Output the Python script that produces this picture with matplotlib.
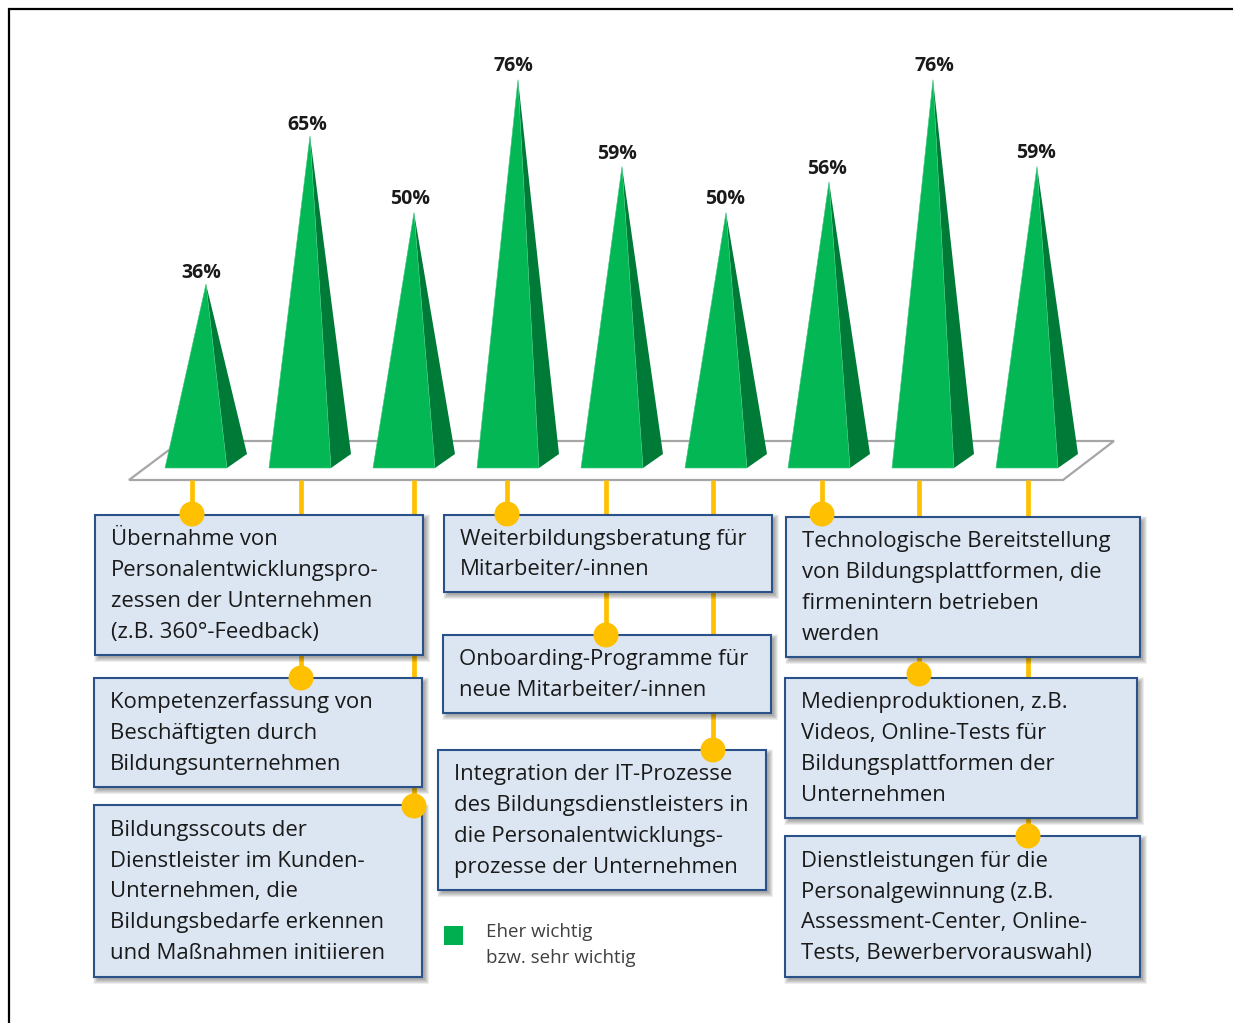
import matplotlib.pyplot as plt
from matplotlib.patches import Polygon, Rectangle, Circle

plt.rcParams['font.family'] = ['Open Sans', 'DejaVu Sans']

# share of answers per offer, left to right
values = [36, 65, 50, 76, 59, 50, 56, 76, 59]
value_labels = ["36%", "65%", "50%", "76%", "59%", "50%", "56%", "76%", "59%"]

box_texts = [
    ["Übernahme von", "Personalentwicklungspro-", "zessen der Unternehmen", "(z.B. 360°-Feedback)"],
    ["Kompetenzerfassung von", "Beschäftigten durch", "Bildungsunternehmen"],
    ["Bildungsscouts der", "Dienstleister im Kunden-", "Unternehmen, die", "Bildungsbedarfe erkennen", "und Maßnahmen initiieren"],
    ["Weiterbildungsberatung für", "Mitarbeiter/-innen"],
    ["Onboarding-Programme für", "neue Mitarbeiter/-innen"],
    ["Integration der IT-Prozesse", "des Bildungsdienstleisters in", "die Personalentwicklungs-", "prozesse der Unternehmen"],
    ["Technologische Bereitstellung", "von Bildungsplattformen, die", "firmenintern betrieben", "werden"],
    ["Medienproduktionen, z.B.", "Videos, Online-Tests für", "Bildungsplattformen der", "Unternehmen"],
    ["Dienstleistungen für die", "Personalgewinnung (z.B.", "Assessment-Center, Online-", "Tests, Bewerbervorauswahl)"],
]
legend_lines = ["Eher wichtig", "bzw. sehr wichtig"]

# layout, in pixels
W, H = 1233, 1023
BASE_Y = 468
PX_PER_PCT = 5.11
left_x = [165, 269, 373, 477, 581, 685, 788, 892, 996]
label_x = [201, 307, 410, 513, 617, 725, 827, 934, 1036]
label_y = [273, 125, 199, 66, 154, 199, 169, 66, 153]
box_rects = [
    (95, 515, 423, 655), (94, 678, 422, 787), (94, 805, 422, 977),
    (444, 515, 772, 592), (443, 635, 771, 713), (438, 750, 766, 890),
    (786, 517, 1140, 657), (785, 678, 1137, 818), (785, 836, 1140, 977),
]
dots = [(192, 514), (301, 678), (414, 806), (507, 514), (606, 635),
        (713, 750), (822, 514), (919, 674), (1028, 836)]

GREEN = '#03B755'
DARK_GREEN = '#007A37'
YELLOW = '#FFC000'
BOX_FILL = '#DCE6F2'
BOX_EDGE = '#2A5288'
TEXT = '#1A1A1A'
FS = 15.9
LINE_H = 30.8

fig = plt.figure(figsize=(W / 100, H / 100), dpi=100, facecolor='white')

# background axes works in pixel coordinates
ax = fig.add_axes([0, 0, 1, 1])
ax.set_xlim(0, W)
ax.set_ylim(H, 0)
ax.axis('off')

# frame, only top and left
ax.plot([9, 9, W], [H, 9, 9], color='black', lw=1.6, solid_joinstyle='miter')

# floor plate
ax.add_patch(Polygon([(129, 480), (1063, 480), (1114, 441), (181, 441)], closed=True,
                     facecolor='white', edgecolor='#A6A6A6', lw=1.6, zorder=1))

# connectors run behind the boxes
for x, y in dots:
    ax.plot([x, x], [480, y], color=YELLOW, lw=3.4, solid_capstyle='butt', zorder=2)

# boxes with a soft shadow
for (x0, y0, x1, y1), lines in zip(box_rects, box_texts):
    for grow in range(8, -3, -1):
        ax.add_patch(Rectangle((x0 + 3 - grow / 2, y0 + 3 - grow / 2), x1 - x0 + grow, y1 - y0 + grow,
                               facecolor='black', edgecolor='none', alpha=0.035, zorder=3))
    ax.add_patch(Rectangle((x0, y0), x1 - x0, y1 - y0, facecolor=BOX_FILL,
                           edgecolor=BOX_EDGE, lw=1.5, zorder=4))
    n = len(lines)
    mid = (y0 + y1) / 2 + 1
    for i, line in enumerate(lines):
        ax.text(x0 + 16, mid + (i - (n - 1) / 2) * LINE_H, line, fontsize=FS, color=TEXT,
                ha='left', va='center', zorder=5)

for x, y in dots:
    ax.add_patch(Circle((x, y), 12.5, facecolor=YELLOW, edgecolor='none', zorder=6))

# legend
ax.add_patch(Rectangle((444, 926), 19, 19, facecolor='#00B050', edgecolor='none', zorder=4))
ax.text(486, 932, legend_lines[0], fontsize=13.5, color='#404040', ha='left', va='center')
ax.text(486, 958, legend_lines[1], fontsize=13.5, color='#404040', ha='left', va='center')

# value labels
for lx, ly, lab in zip(label_x, label_y, value_labels):
    ax.text(lx, ly, lab, fontsize=14, fontweight='bold', color=TEXT, ha='center', va='center')

# pyramids sit on a second axes with percent as y
ax2 = fig.add_axes([0, 0, 1, 1])
ax2.set_xlim(0, W)
ax2.set_ylim((BASE_Y - H) / PX_PER_PCT, BASE_Y / PX_PER_PCT)
ax2.axis('off')
ax2.patch.set_alpha(0)

back_rise = 14 / PX_PER_PCT
for x, v in zip(left_x, values):
    apex = (x + 41, v)
    ax2.add_patch(Polygon([(x + 62, 0), (x + 82, back_rise), apex], closed=True,
                          facecolor=DARK_GREEN, edgecolor='none'))
    ax2.add_patch(Polygon([(x, 0), (x + 62, 0), apex], closed=True,
                          facecolor=GREEN, edgecolor='#3CC97F', lw=0.4))

fig.savefig('out.png', dpi=100)
